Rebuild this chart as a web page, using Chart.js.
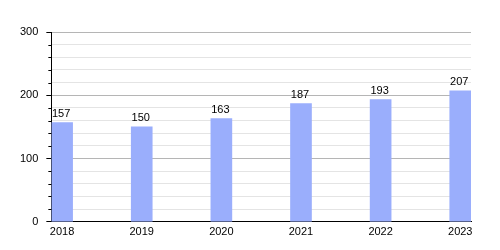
<!DOCTYPE html>
<html>
<head>
<meta charset="utf-8">
<script src="https://cdn.jsdelivr.net/npm/chart.js@4"></script>
<style>
  html, body { margin: 0; padding: 0; background: #fff; }
  #wrap { width: 500px; height: 250px; }
</style>
</head>
<body>
<div id="wrap"><canvas id="chart" width="500" height="250"></canvas></div>
<script>
// dados
const years = [2018, 2019, 2020, 2021, 2022, 2023];
const values = [157, 150, 163, 187, 193, 207];
const yTicks = [0, 100, 200, 300];

const FONT = '"Liberation Sans", Arial, sans-serif';

// rótulos acima das barras + marcas menores no eixo y
const extras = {
    id: 'extras',
    afterDatasetsDraw(chart) {
        const ctx = chart.ctx;
        const meta = chart.getDatasetMeta(0);
        ctx.save();
        ctx.fillStyle = '#000';
        ctx.font = '11px ' + FONT;
        ctx.textAlign = 'center';
        ctx.textBaseline = 'bottom';
        meta.data.forEach((bar, i) => {
            ctx.fillText(values[i], bar.x - 1, bar.y - 3);
        });
        const y = chart.scales.y;
        const left = chart.chartArea.left;
        ctx.strokeStyle = '#000';
        ctx.lineWidth = 1;
        for (let v = 0; v <= 300; v += 20) {
            if (yTicks.includes(v)) continue;
            const py = Math.round(y.getPixelForValue(v)) + 0.5;
            ctx.beginPath();
            ctx.moveTo(left - 3, py);
            ctx.lineTo(left, py);
            ctx.stroke();
        }
        ctx.restore();
    }
};

new Chart(document.getElementById('chart'), {
    type: 'bar',
    data: {
        datasets: [{
            data: years.map((yr, i) => ({ x: yr, y: values[i] })),
            backgroundColor: '#9aaefc',
            borderWidth: 0,
            barThickness: 21
        }]
    },
    options: {
        responsive: false,
        animation: false,
        layout: { padding: { top: 32, right: 29, left: 12, bottom: 7 } },
        plugins: { legend: { display: false }, tooltip: { enabled: false } },
        scales: {
            x: {
                type: 'linear',
                min: 2017.865,
                max: 2023.135,
                offset: false,
                grid: { display: false, drawTicks: false },
                border: { display: true, color: '#000' },
                ticks: {
                    stepSize: 1,
                    includeBounds: false,
                    color: '#000',
                    font: { family: FONT, size: 11 },
                    padding: 4,
                    maxRotation: 0,
                    callback: v => String(v)
                }
            },
            y: {
                min: 0,
                max: 300,
                grid: {
                    color: c => (c.tick && c.tick.value % 100 === 0) ? '#b5b5b5' : '#e4e4e4',
                    tickColor: c => (c.tick && c.tick.value % 100 === 0) ? '#000' : 'rgba(0,0,0,0)',
                    tickLength: 5
                },
                border: { display: true, color: '#000' },
                ticks: {
                    stepSize: 20,
                    autoSkip: false,
                    color: '#000',
                    font: { family: FONT, size: 11 },
                    padding: 8,
                    callback: v => yTicks.includes(v) ? String(v) : ''
                }
            }
        }
    },
    plugins: [extras]
});
</script>
</body>
</html>
